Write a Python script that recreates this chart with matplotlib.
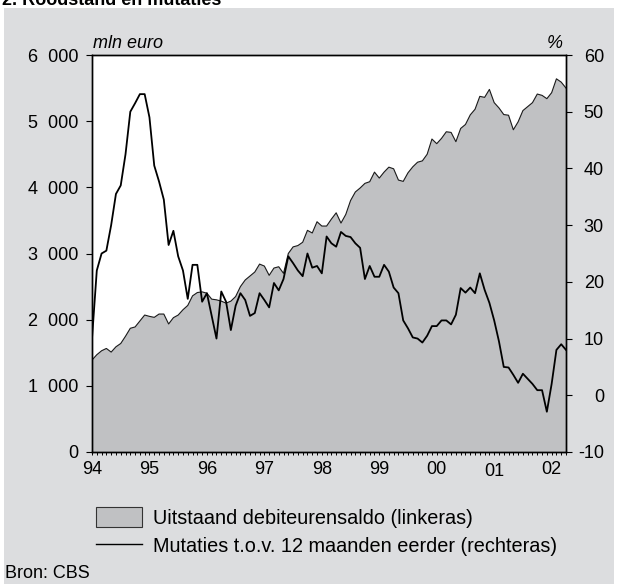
import matplotlib
matplotlib.use('Agg')
import matplotlib.pyplot as plt
import numpy as np
from matplotlib.patches import Rectangle, Patch
from matplotlib.lines import Line2D
from matplotlib.ticker import FixedLocator, FuncFormatter
from matplotlib.transforms import ScaledTranslation

plt.rcParams['font.family'] = ['Liberation Sans', 'DejaVu Sans']

# ---- data -------------------------------------------------------------
start_year = 1994
saldo = [1390, 1470, 1530, 1565, 1510, 1590, 1640, 1750, 1870, 1890,
         1980, 2070, 2050, 2035, 2085, 2085, 1935, 2030, 2070, 2150,
         2215, 2360, 2410, 2420, 2400, 2310, 2300, 2280, 2250, 2280,
         2350, 2500, 2600, 2660, 2720, 2840, 2810, 2670, 2780, 2800,
         2700, 3000, 3100, 3120, 3170, 3350, 3310, 3480, 3415, 3415,
         3520, 3615, 3460, 3590, 3800, 3930, 3990, 4060, 4085, 4230,
         4140, 4230, 4305, 4280, 4110, 4090, 4220, 4310, 4380, 4400,
         4500, 4730, 4660, 4740, 4840, 4830, 4690, 4890, 4950, 5095,
         5180, 5375, 5360, 5480, 5280, 5200, 5100, 5090, 4870, 4990,
         5160, 5220, 5280, 5410, 5390, 5340, 5430, 5640, 5590, 5500]
mutaties = [10, 22, 25, 25.5, 30, 35.5, 37, 42.5, 50, 51.5,
            53.1, 53.1, 49, 40.5, 37.7, 34.5, 26.5, 29, 24.5, 22,
            17, 23, 23, 16.5, 18, 14, 10, 18.3, 16.5, 11.5,
            15.8, 18, 16.8, 14, 14.5, 18, 16.8, 15.5, 19.8, 18.5,
            20.5, 24.5, 23.3, 22, 21, 25, 22.5, 22.8, 21.5, 28,
            26.8, 26.2, 28.8, 28.1, 27.9, 26.8, 26, 20.5, 22.8, 20.9,
            20.9, 23, 21.8, 19, 18, 13.2, 11.8, 10.2, 10, 9.3,
            10.5, 12.2, 12.2, 13.2, 13.2, 12.5, 14.2, 18.9, 18.1, 19,
            18, 21.5, 18.6, 16.3, 13.2, 9.5, 5, 4.9, 3.6, 2.2,
            3.8, 2.9, 2, 0.9, 0.9, -2.9, 2, 8, 9, 8]
year_labels = ['94', '95', '96', '97', '98', '99', '00', '01', '02']
left_ticks = [0, 1000, 2000, 3000, 4000, 5000, 6000]
right_ticks = [-10, 0, 10, 20, 30, 40, 50, 60]
legend_labels = ['Uitstaand debiteurensaldo (linkeras)',
                 'Mutaties t.o.v. 12 maanden eerder (rechteras)']
title = '2. Roodstand en mutaties'
source = 'Bron: CBS'

# ---- figure -----------------------------------------------------------
W, H = 618, 584
PANEL = '#dcdddf'
FILL = '#c0c1c3'
fig = plt.figure(figsize=(W / 100, H / 100), dpi=100, facecolor='white')
fig.patches.append(Rectangle((4 / W, 0), 610 / W, 576 / H, transform=fig.transFigure,
                             facecolor=PANEL, edgecolor='none', zorder=-10))

months = np.arange(len(saldo))
x = start_year + months / 12.0

ax = fig.add_axes([92 / W, 1 - 452 / H, (566 - 92) / W, (452 - 55) / H])
ax.set_facecolor('white')
ax.fill_between(x, saldo, 0, facecolor=FILL, edgecolor='none', zorder=1)
ax.plot(x, saldo, color='#1a1a1a', lw=0.8, zorder=2)
ax.set_xlim(x[0], x[-1])
ax.set_ylim(0, 6000)

ax2 = ax.twinx()
ax2.plot(x, mutaties, color='black', lw=1.3, zorder=3)
ax2.set_ylim(-10, 60)

for a in (ax, ax2):
    for s in a.spines.values():
        s.set_linewidth(1.0)
        s.set_color('black')

fs = 13
ax.yaxis.set_major_locator(FixedLocator(left_ticks))
ax.yaxis.set_major_formatter(FuncFormatter(lambda v, p: f'{int(v):,}'.replace(',', '  ')))
ax.tick_params(axis='y', direction='out', length=4.3, width=0.8, labelsize=fs, pad=5.5,
               colors='black')
ax.tick_params(axis='y', right=False)

ax2.yaxis.set_major_locator(FixedLocator(right_ticks))
ax2.yaxis.set_major_formatter(FuncFormatter(lambda v, p: f'{int(v)}'))
ax2.tick_params(axis='y', direction='out', length=4.3, width=0.8, labelsize=fs, pad=23,
                colors='black', left=False)
plt.setp(ax2.get_yticklabels(), ha='right')

year_pos = [start_year + i for i in range(len(year_labels))]
ax.set_xticks(year_pos)
ax.set_xticklabels(year_labels)
ax.xaxis.set_minor_locator(FixedLocator(x))
ax.tick_params(axis='x', which='both', direction='out', length=2.3, width=0.7,
               labelsize=fs, pad=4.5, colors='black')
# the '01' label sits slightly lower in the original
ticks = ax.xaxis.get_major_ticks()
lab01 = ticks[year_labels.index('01')].label1
lab01.set_transform(lab01.get_transform() + ScaledTranslation(0, -1.0 / 72, fig.dpi_scale_trans))

fig.text(93 / W, 1 - 48 / H, 'mln euro', style='italic', fontsize=fs, va='baseline')
fig.text(563 / W, 1 - 48 / H, '%', style='italic', fontsize=fs, va='baseline', ha='right')

handles = [Patch(facecolor=FILL, edgecolor='#333333', linewidth=0.8),
           Line2D([], [], color='black', lw=1.0)]
lfs = 14.3
px = lfs * 100 / 72
fig.legend(handles, legend_labels, loc='upper left',
           bbox_to_anchor=(96 / W, 1 - 507 / H), bbox_transform=fig.transFigure,
           frameon=False, fontsize=lfs, borderpad=0, borderaxespad=0,
           handlelength=46 / px, handleheight=23 / px,
           handletextpad=11 / px, labelspacing=8 / px)

fig.text(5 / W, 1 - 574 / H, source, fontsize=fs, va='center')
fig.text(2 / W, 1 - 5 / H, title, fontsize=13, fontweight='bold', va='baseline')

fig.savefig('out.png', dpi=100, facecolor=fig.get_facecolor())
